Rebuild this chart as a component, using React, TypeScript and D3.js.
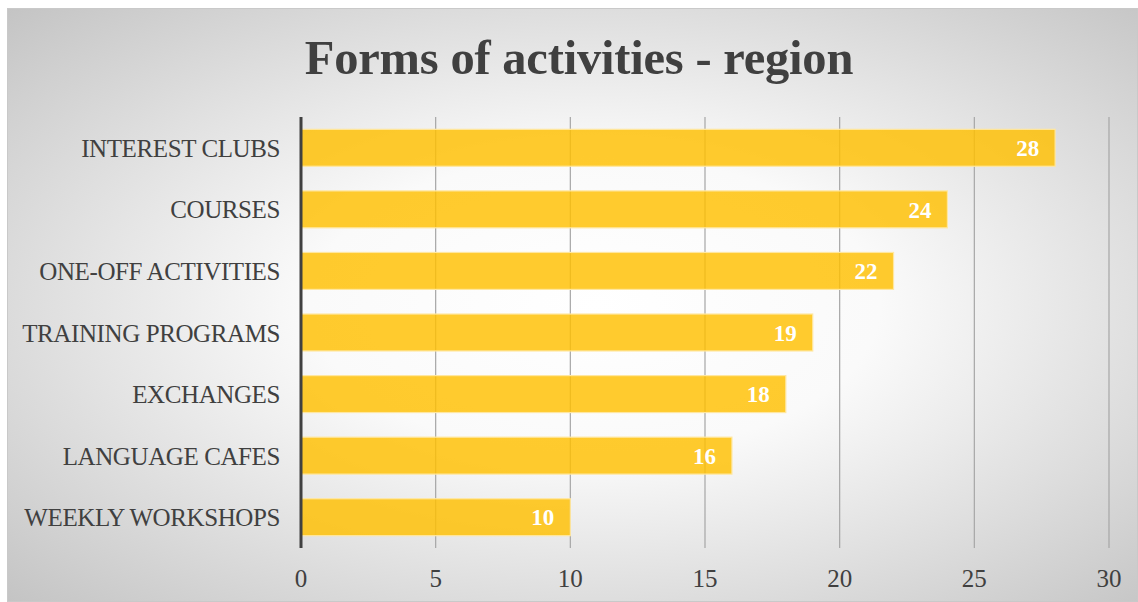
import React from "react";
import * as d3 from "d3";

const categories = [
  "INTEREST CLUBS",
  "COURSES",
  "ONE-OFF ACTIVITIES",
  "TRAINING PROGRAMS",
  "EXCHANGES",
  "LANGUAGE CAFES",
  "WEEKLY WORKSHOPS",
];
const values = [28, 24, 22, 19, 18, 16, 10];
const ticks = [0, 5, 10, 15, 20, 25, 30];
const title = "Forms of activities - region";

export default function App() {
  const W = 1138, H = 602;
  const x = d3.scaleLinear().domain([0, 30]).range([301, 1109]);
  const y = d3.scaleBand<string>().domain(categories).range([117, 548]).paddingInner(0.4).paddingOuter(0.2);
  const font = "'Liberation Serif', 'Times New Roman', serif";
  return (
    <svg width={W} height={H} style={{ position: "absolute", left: 0, top: 0 }}>
      <defs>
        <radialGradient id="bg" cx="52%" cy="50%" r="72%">
          <stop offset="0%" stopColor="#ffffff" />
          <stop offset="35%" stopColor="#fafafa" />
          <stop offset="100%" stopColor="#c4c4c4" />
        </radialGradient>
      </defs>
      <rect x={0} y={0} width={W} height={H} fill="#ffffff" />
      <rect x={7.5} y={8.5} width={W - 8} height={H - 9} fill="url(#bg)" stroke="#c9c9c9" strokeWidth={1} />
      <text x={579} y={74} textAnchor="middle" fontFamily={font} fontWeight="bold" fontSize={48.5} letterSpacing={-0.2} fill="#404040">
        {title}
      </text>
      {ticks.slice(1).map((t) => (
        <line key={t} x1={x(t)} x2={x(t)} y1={117} y2={548} stroke="#a6a6a6" strokeWidth={1.2} />
      ))}
      {categories.map((c, i) => (
        <g key={c}>
          <rect
            x={x(0)}
            y={y(c)!}
            width={x(values[i]) - x(0)}
            height={y.bandwidth()}
            fill="#FFC000"
            fillOpacity={0.82}
            stroke="#FFE7A0"
            strokeWidth={1.2}
          />
          <text
            x={x(values[i]) - 16}
            y={y(c)! + y.bandwidth() / 2}
            dy="0.36em"
            textAnchor="end"
            fontFamily={font}
            fontWeight="bold"
            fontSize={23}
            fill="#ffffff"
          >
            {values[i]}
          </text>
          <text
            x={280}
            y={y(c)! + y.bandwidth() / 2}
            dy="0.36em"
            textAnchor="end"
            fontFamily={font}
            fontSize={25}
            letterSpacing={-0.4}
            fill="#404040"
          >
            {c}
          </text>
        </g>
      ))}
      <line x1={x(0)} x2={x(0)} y1={117} y2={548} stroke="#404040" strokeWidth={3} />
      {ticks.map((t) => (
        <text key={t} x={x(t)} y={587} textAnchor="middle" fontFamily={font} fontSize={25} fill="#404040">
          {t}
        </text>
      ))}
    </svg>
  );
}
